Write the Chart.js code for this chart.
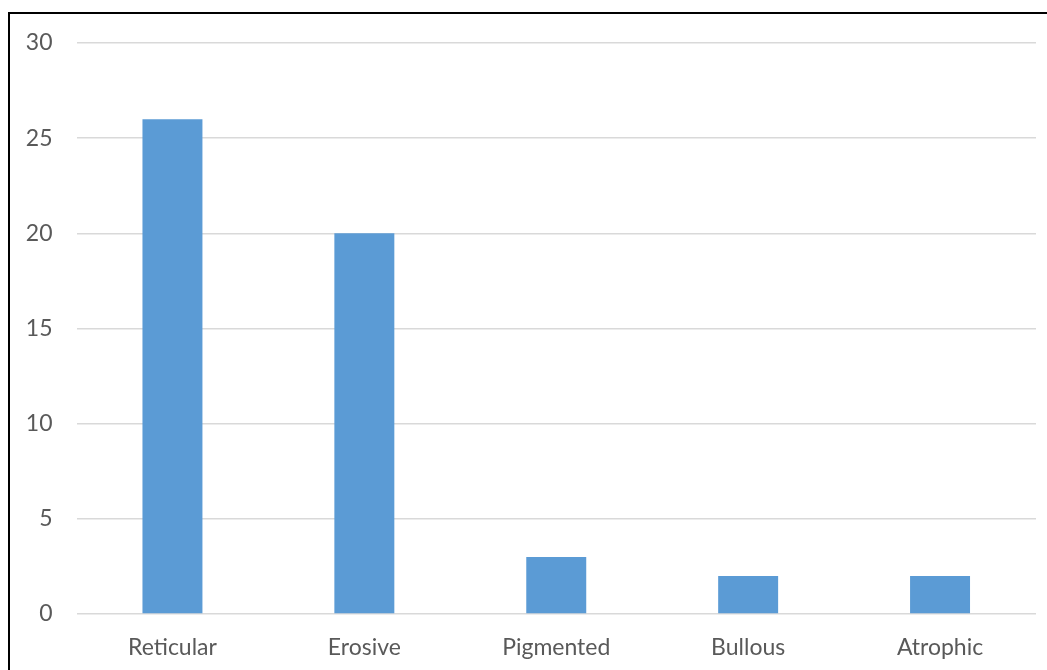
<!DOCTYPE html>
<html>
<head>
<meta charset="utf-8">
<script src="https://cdn.jsdelivr.net/npm/chart.js@4/dist/chart.umd.min.js"></script>
<style>
  html, body { margin: 0; padding: 0; background: #ffffff; overflow: hidden; }
  #frame {
    position: absolute; left: 8px; top: 12px;
    width: 1100px; height: 700px;
    border: 2px solid #000; box-sizing: border-box;
  }
  #wrap { position: absolute; left: 0; top: 0; width: 1047px; height: 670px; }
</style>
</head>
<body>
<div id="frame"></div>
<div id="wrap"><canvas id="chart" width="1047" height="670"></canvas></div>
<script>
// Lesion types and their case counts
const categories = ['Reticular', 'Erosive', 'Pigmented', 'Bullous', 'Atrophic'];
const counts = [26, 20, 3, 2, 2];
const yTicks = [0, 5, 10, 15, 20, 25, 30];

const labelFont = { family: 'Lato, "Open Sans", sans-serif', size: 23 };
const labelColor = '#595959';

new Chart(document.getElementById('chart'), {
  type: 'bar',
  data: {
    labels: categories,
    datasets: [{
      data: counts,
      backgroundColor: '#5B9BD5',
      borderWidth: 0,
      categoryPercentage: 1,
      barPercentage: 0.3125
    }]
  },
  options: {
    responsive: false,
    animation: false,
    layout: { padding: { left: 0, right: 11, top: 43, bottom: 0 } },
    plugins: { legend: { display: false }, tooltip: { enabled: false } },
    scales: {
      x: {
        grid: { display: false, drawTicks: false },
        border: { display: false },
        ticks: { font: labelFont, color: labelColor, padding: 20, maxRotation: 0 },
        afterFit: s => { s.height = 56; }
      },
      y: {
        min: yTicks[0],
        max: yTicks[yTicks.length - 1],
        afterBuildTicks: s => { s.ticks = yTicks.map(v => ({ value: v })); },
        grid: { color: '#d9d9d9', lineWidth: 1.5, drawTicks: false },
        border: { display: false },
        ticks: { font: labelFont, color: labelColor, padding: 24 },
        afterFit: s => { s.width = 76.5; }
      }
    }
  }
});
</script>
</body>
</html>
